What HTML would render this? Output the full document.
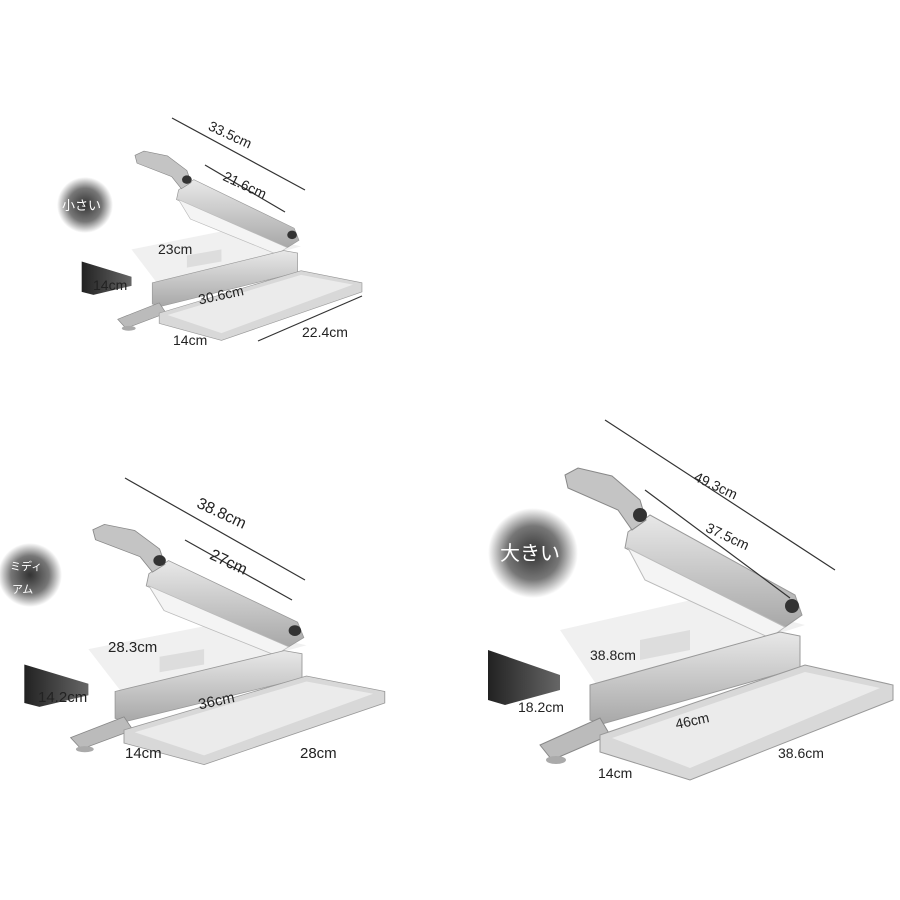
<!DOCTYPE html>
<html><head><meta charset="utf-8"><style>
body{margin:0;background:#fff}
svg{display:block}
text{font-family:"Liberation Sans","Noto Sans CJK JP",sans-serif;fill:#222}
</style></head><body>
<svg width="900" height="900" viewBox="0 0 900 900" xmlns="http://www.w3.org/2000/svg">
<defs>
<radialGradient id="bg" cx="50%" cy="50%" r="50%">
<stop offset="0" stop-color="#333"/><stop offset="0.6" stop-color="#777"/><stop offset="1" stop-color="#fff"/>
</radialGradient>
<linearGradient id="met" x1="0" y1="0" x2="0" y2="1">
<stop offset="0" stop-color="#e8e8e8"/><stop offset="1" stop-color="#a8a8a8"/>
</linearGradient>
<linearGradient id="grd" x1="0" y1="0" x2="1" y2="0">
<stop offset="0" stop-color="#222"/><stop offset="1" stop-color="#666"/>
</linearGradient>
<g id="slicer">
<polygon points="560,630 700,598 805,625 600,690" fill="#f0f0f0"/>
<polygon points="488,650 560,675 560,690 505,705 488,700" fill="url(#grd)"/>
<polygon points="628,532 650,515 795,595 802,615 785,627 625,548" fill="url(#met)" stroke="#999"/>
<polygon points="628,548 785,627 770,638 645,580" fill="#f4f4f4" stroke="#bbb"/>
<polygon points="565,475 578,468 612,476 640,500 646,520 632,530 618,510 568,488" fill="#c4c4c4" stroke="#888"/>
<circle cx="640" cy="515" r="7" fill="#333"/>
<circle cx="792" cy="606" r="7" fill="#333"/>
<polygon points="640,640 690,630 690,650 640,660" fill="#ddd"/>
<polygon points="590,685 780,632 800,636 800,668 602,724 590,720" fill="url(#met)" stroke="#999"/>
<polygon points="540,745 600,718 610,735 552,760" fill="#bbb" stroke="#888"/>
<ellipse cx="556" cy="760" rx="10" ry="4" fill="#aaa"/>
<polygon points="600,735 805,665 893,685 893,700 690,780 600,752" fill="#d8d8d8" stroke="#999"/>
<polygon points="612,738 805,672 880,688 690,768" fill="#ebebeb"/>
</g>
</defs>

<use href="#slicer"/>
<use href="#slicer" transform="translate(-410,164) scale(0.89,0.77)"/>
<use href="#slicer" transform="translate(-256,-133) scale(0.692,0.607)"/>

<circle cx="85" cy="205" r="28" fill="url(#bg)"/>
<text x="62" y="210" font-size="13" style="fill:#fff">小さい</text>
<circle cx="30" cy="575" r="32" fill="url(#bg)"/>
<text x="10" y="570" font-size="11" style="fill:#fff">ミディ</text>
<text x="12" y="593" font-size="11" style="fill:#fff">アム</text>
<circle cx="533" cy="553" r="45" fill="url(#bg)"/>
<text x="500" y="560" font-size="20" style="fill:#fff">大きい</text>

<g stroke="#333" stroke-width="1.2">
<line x1="172" y1="118" x2="305" y2="190"/>
<line x1="205" y1="165" x2="285" y2="212"/>
<line x1="258" y1="341" x2="362" y2="296"/>
<line x1="125" y1="478" x2="305" y2="580"/>
<line x1="185" y1="540" x2="292" y2="600"/>
<line x1="605" y1="420" x2="835" y2="570"/>
<line x1="645" y1="490" x2="790" y2="598"/>
</g>

<g font-size="14">
<text x="205" y="140" transform="rotate(25 230 140)">33.5cm</text>
<text x="222" y="190" transform="rotate(25 245 185)">21.6cm</text>
<text x="158" y="254">23cm</text>
<text x="93" y="290">14cm</text>
<text x="198" y="300" transform="rotate(-12 220 295)">30.6cm</text>
<text x="173" y="345">14cm</text>
<text x="302" y="337">22.4cm</text>

<text x="195" y="520" font-size="16" transform="rotate(25 225 515)">38.8cm</text>
<text x="208" y="568" font-size="16" transform="rotate(25 230 565)">27cm</text>
<text x="108" y="652" font-size="15">28.3cm</text>
<text x="38" y="702" font-size="15">14.2cm</text>
<text x="198" y="705" font-size="15" transform="rotate(-12 220 700)">36cm</text>
<text x="125" y="758" font-size="15">14cm</text>
<text x="300" y="758" font-size="15">28cm</text>

<text x="693" y="490" transform="rotate(25 715 485)">49.3cm</text>
<text x="705" y="540" transform="rotate(25 725 535)">37.5cm</text>
<text x="590" y="660">38.8cm</text>
<text x="518" y="712">18.2cm</text>
<text x="675" y="725" transform="rotate(-12 695 720)">46cm</text>
<text x="598" y="778">14cm</text>
<text x="778" y="758">38.6cm</text>
</g>
</svg>
</body></html>
